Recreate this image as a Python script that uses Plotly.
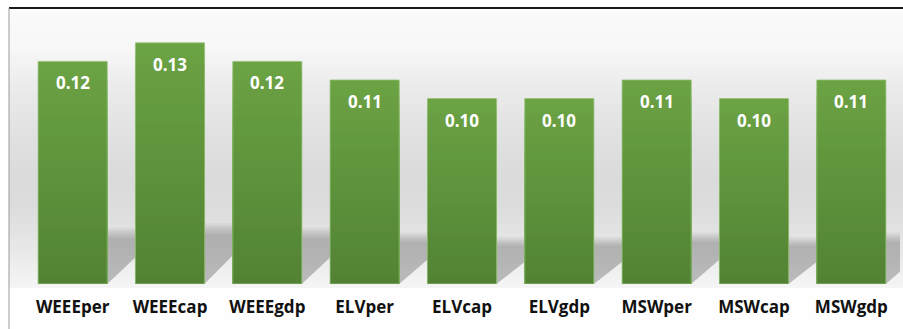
import plotly.graph_objects as go
import numpy as np

categories = ["WEEEper", "WEEEcap", "WEEEgdp", "ELVper", "ELVcap", "ELVgdp", "MSWper", "MSWcap", "MSWgdp"]
values = [0.12, 0.13, 0.12, 0.11, 0.10, 0.10, 0.11, 0.10, 0.11]
value_labels = ["0.12", "0.13", "0.12", "0.11", "0.10", "0.10", "0.11", "0.10", "0.11"]

W, H = 903, 329
ML, MR, MT, MB = 24, 3, 8, 45
PW = W - ML - MR
PH = H - MT - MB
YMAX = 0.1488
BAR_W = 0.71

xs = list(range(len(categories)))


def px_x(p):
    return (p - ML) / PW


def px_y(p):
    return (H - MB - p) / PH


fig = go.Figure()

# gradient bars (stacked overlay bands, derived from data)
top_col = np.array([108, 163, 68])
bot_col = np.array([82, 131, 52])
N = 24
for k in range(N):
    frac = 1 - k / N
    t = (k + 0.5) / N
    c = top_col + (bot_col - top_col) * t
    fig.add_trace(go.Bar(
        x=xs, y=[v * frac for v in values], width=BAR_W,
        marker=dict(color=f"rgb({int(c[0])},{int(c[1])},{int(c[2])})", line=dict(width=0)),
        hoverinfo="skip", showlegend=False,
    ))
# outline
fig.add_trace(go.Bar(
    x=xs, y=values, width=BAR_W,
    marker=dict(color="rgba(0,0,0,0)", line=dict(color="rgba(150,195,120,0.8)", width=1)),
    showlegend=False, hovertemplate="%{y:.2f}<extra></extra>",
))

shapes = []
# background gradient bands (paper coords)
stops = [(8, 255), (14, 250), (48, 247), (66, 242), (84, 236), (110, 230), (140, 224),
         (175, 219), (205, 220), (230, 226), (255, 234), (275, 241), (288, 245), (289, 254), (329, 254)]
sy = [s[0] for s in stops]
sv = [s[1] for s in stops]
p = 8
while p < 329:
    p2 = min(p + 2, 329)
    g = int(round(np.interp((p + p2) / 2, sy, sv)))
    shapes.append(dict(type="rect", xref="paper", yref="paper",
                       x0=px_x(9), x1=px_x(W), y0=px_y(p2), y1=px_y(p),
                       fillcolor=f"rgb({g},{g},{g})", line=dict(width=0), layer="below"))
    p = p2

# shadows (data coords), soft edges via stacked translucent layers
DX = 0.56
for i, v in enumerate(values):
    s = 0.23 * v
    xl, xr = i - BAR_W / 2, i + BAR_W / 2
    for j in range(-3, 4):
        sh = s * (1 + 0.035 * j)
        dx = DX * (1 + 0.035 * j)
        path = f"M {xl},0 L {xr},0 L {xr + dx},{sh} L {xl + dx},{sh} Z"
        shapes.append(dict(type="path", xref="x", yref="y", path=path,
                           fillcolor="rgba(0,0,0,0.034)", line=dict(width=0), layer="below"))

# frame lines
shapes.append(dict(type="line", xref="paper", yref="paper", x0=px_x(9), x1=px_x(W),
                   y0=px_y(8), y1=px_y(8), line=dict(color="#1a1a1a", width=1.8)))
shapes.append(dict(type="line", xref="paper", yref="paper", x0=px_x(9), x1=px_x(9),
                   y0=px_y(8), y1=px_y(H), line=dict(color="#9a9a9a", width=1)))

annotations = []
for i, (v, t) in enumerate(zip(values, value_labels)):
    annotations.append(dict(x=i, y=v, xref="x", yref="y", text=t, showarrow=False,
                            yanchor="top", yshift=-8,
                            font=dict(family="Open Sans", size=17, color="white", weight="bold")))

fig.update_layout(
    width=W, height=H,
    margin=dict(l=ML, r=MR, t=MT, b=MB, pad=0),
    barmode="overlay",
    paper_bgcolor="white",
    plot_bgcolor="rgba(0,0,0,0)",
    shapes=shapes,
    annotations=annotations,
    showlegend=False,
    xaxis=dict(range=[-0.5, len(categories) - 0.5], tickvals=xs, ticktext=categories,
               showgrid=False, zeroline=False, showline=False, ticks="",
               ticklabelstandoff=11,
               tickfont=dict(family="Open Sans", size=17, color="#111111", weight="bold"),
               fixedrange=True),
    yaxis=dict(range=[0, YMAX], showgrid=False, zeroline=False, showline=False,
               showticklabels=False, ticks="", fixedrange=True),
)

fig.write_html("out.html")
